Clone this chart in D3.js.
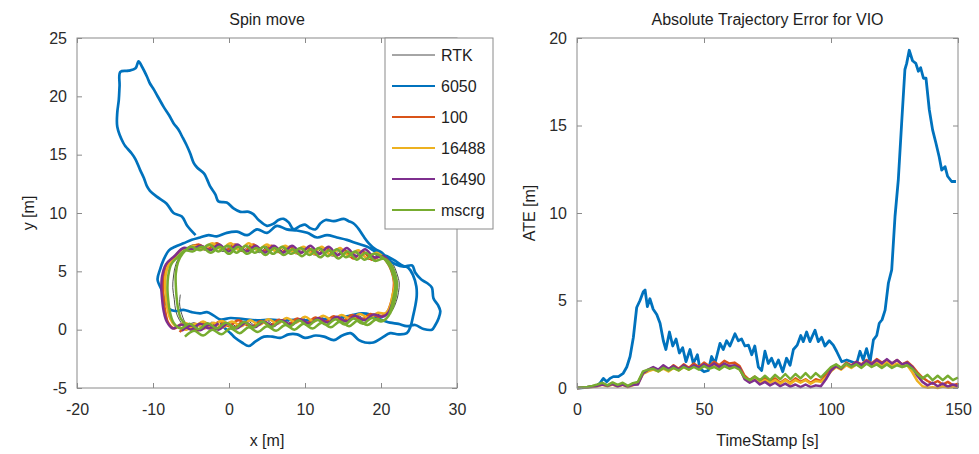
<!DOCTYPE html>
<html>
<head>
<meta charset="utf-8">
<script src="https://cdn.jsdelivr.net/npm/d3@7"></script>
<style>
    body { margin: 0; background: #fff; }
    svg { display: block; font-family: "Liberation Sans", Arial, Helvetica, sans-serif; }
    .tick text { font-size: 16px; fill: #2b2b2b; }
    .tick line { stroke: #8a8a8a; }
    .title, .label { font-size: 16px; fill: #1e1e1e; }
</style>
</head>
<body>
<svg id="chart" width="979" height="454"></svg>
<script>
// ---- series names and colours (MATLAB default order) ----
const seriesNames = ['RTK', '6050', '100', '16488', '16490', 'mscrg'];
const seriesColors = ['#4d4d4d', '#0072BD', '#D95319', '#EDB120', '#7E2F8E', '#77AC30'];

// ---- left plot: trajectories [x, y] in metres ----
const trajRTK = [[-6.4,3.0],[-6.5,2.2],[-6.2,1.3],[-5.6,0.5],[-4.8,0.45],[-3.6,0.0],[-2.4,0.55],[-1.2,0.1],[0,0.65],[1.2,0.2],[2.4,0.75],[3.6,0.3],[4.8,0.85],[6.0,0.4],[7.2,0.9],[8.4,0.5],[9.6,1.0],[10.8,0.6],[12.0,1.1],[13.2,0.7],[14.4,1.15],[15.6,0.8],[16.8,1.25],[18.0,0.9],[19.2,1.35],[20.4,1.2],[21.4,1.6],[22.0,2.4],[22.3,3.2],[22.4,4.0],[22.1,4.8],[21.6,5.6],[20.8,6.2],[19.6,6.4],[18.4,6.0],[17.2,6.7],[16.0,6.2],[14.8,6.9],[13.6,6.3],[12.4,7.0],[11.2,6.4],[10.0,7.0],[8.8,6.5],[7.6,7.1],[6.4,6.6],[5.2,7.2],[4.0,6.6],[2.8,7.2],[1.6,6.7],[0.4,7.3],[-0.8,6.7],[-2.0,7.3],[-3.2,6.8],[-4.4,7.3],[-5.6,7.0],[-6.4,6.4],[-7.0,5.6],[-7.3,4.6],[-7.4,3.6],[-7.2,2.6],[-7.0,1.6],[-6.5,0.8],[-5.8,0.3],[-4.6,0.6],[-3.4,0.15],[-2.2,0.7]];

const traj6050 = [[-4.4,8.1],[-5.5,8.9],[-6.2,9.7],[-7.3,10.0],[-8.2,10.8],[-9.5,11.4],[-10.4,11.9],[-10.8,12.3],[-11.2,13.0],[-11.7,13.7],[-12.3,14.6],[-12.8,15.1],[-13.6,15.7],[-13.9,16.0],[-14.7,17.4],[-14.7,18.6],[-14.5,19.7],[-14.4,20.9],[-14.3,22.1],[-13.2,22.2],[-12.3,22.4],[-11.9,23.0],[-11.5,22.6],[-10.8,21.7],[-10.4,21.1],[-9.9,20.6],[-9.3,19.9],[-8.6,19.1],[-7.9,18.4],[-7.3,17.7],[-6.6,17.1],[-6.2,16.6],[-5.5,15.7],[-5.1,15.1],[-4.65,14.3],[-4.2,13.9],[-3.3,13.4],[-2.9,12.9],[-2.5,12.3],[-1.8,11.6],[-1.4,11.0],[-0.3,10.9],[0.6,10.4],[1.5,10.1],[2.6,10.1],[3.2,9.9],[3.9,9.4],[5.0,8.9],[5.9,9.1],[6.5,9.4],[7.2,9.5],[7.85,9.2],[8.5,8.6],[9.4,8.9],[10.0,9.0],[10.7,8.7],[11.4,8.6],[12.0,9.1],[12.7,9.4],[13.8,9.3],[15.1,9.5],[15.75,9.3],[16.4,9.1],[17.1,8.6],[17.7,8.0],[18.4,7.4],[19.25,6.9],[20.1,6.6],[21.0,6.0],[21.9,5.6],[23.0,5.4],[24.1,5.5],[24.5,4.9],[25.3,4.3],[26.05,4.0],[26.7,3.6],[26.9,2.7],[27.5,2.1],[27.8,1.6],[27.6,1.0],[27.15,0.4],[26.7,0.0],[25.6,0.06],[24.5,0.4],[23.4,0.3],[22.3,0.5],[21.2,0.6],[19.9,0.9],[18.6,1.3],[17.5,1.4],[16.0,1.2],[14.2,1.0],[12.5,0.9],[10.7,0.8],[8.95,0.86],[7.2,0.8],[5.4,0.86],[3.7,0.8],[1.9,0.9],[0.2,1.0],[-1.1,0.86],[-2.0,1.2],[-2.9,1.5],[-3.8,1.4],[-4.9,1.5],[-6.0,1.7],[-7.1,1.6],[-7.9,1.8],[-8.4,2.4],[-8.8,3.3],[-9.4,4.3],[-9.1,5.1],[-8.6,6.0],[-7.9,6.8],[-7.1,7.1],[-6.0,7.4],[-4.9,7.7],[-3.8,7.9],[-2.7,8.1],[-1.6,8.0],[-0.3,8.3],[1.05,8.4],[2.4,8.1],[3.7,8.6],[5.0,8.3],[6.3,8.9],[7.6,8.6],[8.95,8.5],[10.3,8.3],[11.6,7.9],[12.9,8.1],[14.2,7.9],[15.5,7.7],[16.8,7.4],[18.2,7.1],[19.5,6.6],[20.8,6.3],[21.9,5.9],[22.8,5.5],[23.6,5.3],[24.2,4.7],[24.65,3.7],[24.7,2.9],[24.5,2.0],[24.2,1.1],[23.9,0.3],[23.4,-0.3],[22.3,-0.4],[21.2,-0.3],[20.1,-0.7],[19.0,-1.1],[17.9,-1.1],[17.1,-0.9],[16.0,-0.3],[14.9,-0.5],[13.8,-0.9],[12.5,-0.6],[11.4,-0.5],[10.0,-0.7],[8.95,-0.4],[7.85,-0.4],[6.75,-0.7],[5.7,-0.6],[4.6,-0.6],[3.5,-1.0],[2.6,-1.4],[1.7,-1.1],[0.8,-0.7],[0.2,-0.3],[-0.5,0.1],[-1.1,0.6]];

const traj100 = [[-6.5,-0.2],[-5.4,0.3],[-4.2,-0.1],[-3.0,0.45],[-1.8,0.05],[-0.6,0.55],[0.6,0.15],[1.8,0.65],[3.0,0.25],[4.2,0.75],[5.4,0.35],[6.6,0.85],[7.8,0.45],[9.0,0.95],[10.2,0.55],[11.4,1.05],[12.6,0.65],[13.8,1.15],[15.0,0.75],[16.2,1.25],[17.4,0.85],[18.6,1.35],[19.8,1.1],[20.8,1.5],[21.3,2.3],[21.6,3.2],[21.7,4.1],[21.4,5.0],[20.9,5.7],[20.0,6.3],[18.8,6.0],[17.6,6.7],[16.4,6.1],[15.2,6.8],[14.0,6.3],[12.8,7.0],[11.6,6.4],[10.4,7.0],[9.2,6.5],[8.0,7.1],[6.8,6.6],[5.6,7.2],[4.4,6.7],[3.2,7.3],[2.0,6.7],[0.8,7.3],[-0.4,6.8],[-1.6,7.4],[-2.8,6.9],[-4.0,7.3],[-5.2,7.0],[-6.2,6.9],[-7.2,6.2],[-8.2,5.6],[-8.6,4.6],[-8.7,3.6],[-8.6,2.6],[-8.4,1.6],[-8.0,0.6],[-7.2,0.1],[-6.0,0.5],[-4.8,0.1],[-3.6,0.6],[-2.4,0.2],[-1.2,0.7],[0.0,0.3],[1.2,0.8],[2.4,0.35]];

const traj16488 = [[-6.8,0.3],[-5.6,0.0],[-4.4,0.5],[-3.2,0.1],[-2.0,0.6],[-0.8,0.2],[0.4,0.7],[1.6,0.3],[2.8,0.8],[4.0,0.4],[5.2,0.9],[6.4,0.5],[7.6,1.0],[8.8,0.6],[10.0,1.1],[11.2,0.7],[12.4,1.2],[13.6,0.8],[14.8,1.25],[16.0,0.9],[17.2,1.35],[18.4,1.0],[19.6,1.45],[20.6,1.4],[21.2,2.0],[21.5,2.9],[21.8,3.8],[21.6,4.7],[21.2,5.5],[20.5,6.1],[19.4,6.6],[18.2,6.1],[17.0,6.8],[15.8,6.3],[14.6,7.0],[13.4,6.4],[12.2,7.1],[11.0,6.5],[9.8,7.1],[8.6,6.6],[7.4,7.2],[6.2,6.7],[5.0,7.3],[3.8,6.8],[2.6,7.4],[1.4,6.8],[0.2,7.4],[-1.0,6.9],[-2.2,7.4],[-3.4,6.9],[-4.6,7.2],[-5.8,6.8],[-6.8,6.2],[-7.8,5.7],[-8.3,4.8],[-8.4,3.8],[-8.3,2.8],[-8.1,1.8],[-7.7,0.9],[-7.0,0.3],[-5.8,0.6],[-4.6,0.2],[-3.4,0.7],[-2.2,0.25],[-1.0,0.75],[0.2,0.3]];

const traj16490 = [[-6.2,-0.1],[-5.0,0.35],[-3.8,-0.05],[-2.6,0.4],[-1.4,0.0],[-0.2,0.5],[1.0,0.1],[2.2,0.6],[3.4,0.2],[4.6,0.7],[5.8,0.3],[7.0,0.8],[8.2,0.4],[9.4,0.9],[10.6,0.5],[11.8,1.0],[13.0,0.6],[14.2,1.1],[15.4,0.7],[16.6,1.2],[17.8,0.8],[19.0,1.3],[20.2,1.1],[21.0,1.5],[21.5,2.3],[21.9,3.2],[22.0,4.1],[21.7,5.0],[21.2,5.7],[20.3,6.3],[19.1,6.2],[17.9,6.9],[16.7,6.3],[15.5,7.0],[14.3,6.4],[13.1,7.1],[11.9,6.5],[10.7,7.2],[9.5,6.6],[8.3,7.2],[7.1,6.6],[5.9,7.2],[4.7,6.6],[3.5,7.2],[2.3,6.7],[1.1,7.3],[-0.1,6.7],[-1.3,7.3],[-2.5,6.8],[-3.7,7.2],[-4.9,6.9],[-6.0,7.0],[-7.2,6.3],[-8.3,5.6],[-8.8,4.6],[-8.9,3.6],[-8.8,2.6],[-8.6,1.6],[-8.2,0.7],[-7.4,0.1],[-6.2,0.45],[-5.0,0.0],[-3.8,0.5],[-2.6,0.1],[-1.4,0.55]];

const trajMscrg = [[-5.8,-0.6],[-4.6,-0.1],[-3.4,-0.5],[-2.2,0.0],[-1.0,-0.4],[0.2,0.1],[1.4,-0.3],[2.6,0.2],[3.8,-0.2],[5.0,0.3],[6.2,-0.1],[7.4,0.4],[8.6,0.0],[9.8,0.5],[11.0,0.1],[12.2,0.6],[13.4,0.2],[14.6,0.7],[15.8,0.3],[17.0,0.8],[18.2,0.4],[19.4,0.9],[20.4,0.8],[21.2,1.4],[21.7,2.2],[22.0,3.1],[22.1,4.0],[21.8,4.9],[21.3,5.6],[20.4,6.1],[19.2,5.9],[18.0,6.6],[16.8,6.0],[15.6,6.7],[14.4,6.1],[13.2,6.8],[12.0,6.2],[10.8,6.9],[9.6,6.3],[8.4,6.9],[7.2,6.4],[6.0,7.0],[4.8,6.4],[3.6,7.0],[2.4,6.5],[1.2,7.1],[0.0,6.5],[-1.2,7.1],[-2.4,6.6],[-3.6,7.1],[-4.8,6.7],[-5.8,6.8],[-6.8,6.2],[-7.6,5.6],[-8.0,4.6],[-8.1,3.6],[-8.0,2.6],[-7.8,1.6],[-7.3,0.6],[-6.4,0.1],[-5.2,0.5],[-4.0,0.05],[-2.8,0.55],[-1.6,0.1],[-0.4,0.6],[0.8,0.15],[2.0,0.65],[3.2,0.2],[4.4,0.7],[5.6,0.25],[6.8,0.75],[8.0,0.3],[9.2,0.8],[10.4,0.35],[11.6,0.85],[12.8,0.4],[14.0,0.9],[15.2,0.45],[16.4,0.95],[17.6,0.5],[18.8,1.0],[20.0,0.7],[21.0,1.2],[21.4,2.0],[21.7,2.9],[21.9,3.8],[21.6,4.7],[21.1,5.5],[20.2,6.2],[19.0,6.5],[17.8,6.0],[16.6,6.7],[15.4,6.2],[14.2,6.9],[13.0,6.3],[11.8,7.0],[10.6,6.4],[9.4,7.0],[8.2,6.5],[7.0,7.1],[5.8,6.5],[4.6,7.1],[3.4,6.6],[2.2,7.2],[1.0,6.6],[-0.2,7.2],[-1.4,6.7],[-2.6,7.3],[-3.8,6.8],[-5.0,7.1],[-6.0,6.6],[-6.7,5.8],[-7.0,4.8],[-7.0,3.8],[-6.9,2.8],[-6.7,1.8],[-6.3,0.9],[-5.6,0.4]];

// ---- right plot: absolute trajectory error ----
const ate6050Time = [0,3,6,8,9,10.4,11.7,13,14.3,16.3,18.2,19.6,20.9,22.2,23.5,24.8,26.1,26.8,27.7,28.7,30,31.4,32.7,34,35,36.4,37.7,39,40.3,41.6,42.9,44.5,45.8,47.4,48.4,50,51.7,53,54.3,56.3,57.6,58.9,60.2,62.2,63.5,64.8,66.1,67.5,68.8,70,71.4,72.7,74,75.3,76.6,78,79.3,81,82.5,83.9,85.2,86.7,88.1,89.1,90.4,91.7,93.7,95,96.3,97.6,99.3,100.9,102.2,104.2,106.2,108.1,110.1,111.4,112.7,114,115.4,116.7,118,119,120.1,121.3,122.6,123.9,125.2,126.5,127.8,129.1,129.8,130.8,132.1,133.4,134.4,135.3,136.4,137.4,138.7,140,141.3,142.6,143.6,144.9,145.9,147.5,149.2];
const ate6050 = [0,0.02,0.08,0.15,0.27,0.55,0.36,0.55,0.65,0.65,0.84,1.2,1.8,2.9,4.6,5.0,5.5,5.6,4.65,5.1,4.5,4.2,3.7,2.7,2.2,3.2,2.4,2.8,2.0,2.3,1.5,2.2,1.4,1.9,1.1,0.93,1.0,1.8,1.4,2.55,2.2,2.7,2.4,3.1,2.7,2.8,2.4,2.45,1.9,2.4,1.2,1.0,2.1,1.4,1.7,1.2,1.6,0.93,1.7,1.3,2.2,2.45,3.0,2.65,3.2,2.65,3.3,2.65,2.9,2.4,2.7,2.45,2.1,1.5,1.6,1.5,1.4,2.1,1.6,2.25,1.5,2.75,3.0,3.7,3.9,4.45,6.0,6.75,9.8,11.9,15.1,18.2,18.55,19.3,18.7,18.55,18.1,18.3,17.7,17.7,15.9,14.75,14.0,13.2,12.45,12.65,12.1,11.8,11.8];

const ateTime = [0,2,4,6,8,10,12,14,16,18,20,22,24,26,28,30,32,34,36,38,40,42,44,46,48,50,52,54,56,58,60,62,64,66,68,70,72,74,76,78,80,82,84,86,88,90,92,94,96,98,100,102,104,106,108,110,112,114,116,118,120,122,124,126,128,130,132,134,136,138,140,142,144,146,148,150];
const ate100 = [0,0.02,0.05,0.08,0.15,0.22,0.15,0.28,0.12,0.25,0.1,0.22,0.3,0.9,1.0,1.15,1.0,1.2,1.05,1.3,1.1,1.35,1.15,1.4,1.2,1.45,1.25,1.5,1.3,1.55,1.4,1.45,1.25,0.7,0.45,0.65,0.4,0.6,0.35,0.55,0.3,0.5,0.3,0.55,0.35,0.5,0.3,0.5,0.4,0.75,1.05,1.3,1.15,1.45,1.3,1.5,1.35,1.6,1.4,1.65,1.45,1.6,1.4,1.6,1.35,1.5,1.25,0.9,0.6,0.4,0.25,0.4,0.2,0.35,0.15,0.25];
const ate16488 = [0,0.01,0.03,0.06,0.1,0.18,0.1,0.2,0.08,0.18,0.05,0.15,0.25,0.8,0.95,1.05,0.95,1.1,0.95,1.15,1.0,1.2,1.05,1.25,1.1,1.3,1.15,1.3,1.15,1.35,1.2,1.25,1.1,0.55,0.35,0.5,0.3,0.45,0.3,0.45,0.25,0.45,0.25,0.45,0.3,0.45,0.25,0.4,0.35,0.6,0.95,1.2,1.05,1.3,1.15,1.35,1.2,1.4,1.25,1.45,1.3,1.45,1.25,1.4,1.2,1.3,0.9,0.4,0.1,0.02,0.05,0.0,0.08,0.02,0.06,0.03];
const ate16490 = [0,0.02,0.04,0.08,0.12,0.2,0.12,0.22,0.1,0.2,0.08,0.18,0.2,0.85,1.05,1.2,1.05,1.3,1.1,1.25,1.05,1.3,1.1,1.3,1.15,1.35,1.2,1.4,1.2,1.4,1.25,1.3,1.15,0.5,0.3,0.45,0.2,0.35,0.15,0.3,0.1,0.25,0.08,0.2,0.05,0.2,0.05,0.15,0.1,0.5,1.0,1.25,1.1,1.4,1.25,1.5,1.3,1.55,1.35,1.6,1.4,1.65,1.4,1.6,1.35,1.45,1.2,0.7,0.35,0.15,0.3,0.1,0.25,0.08,0.2,0.1];
const ateMscrg = [0,0.03,0.06,0.12,0.2,0.3,0.15,0.32,0.18,0.3,0.12,0.28,0.35,0.95,1.05,1.1,0.95,1.15,1.0,1.15,1.0,1.2,1.05,1.2,1.05,1.25,1.1,1.2,1.05,1.25,1.1,1.2,1.05,0.6,0.45,0.65,0.45,0.7,0.45,0.75,0.5,0.8,0.5,0.8,0.55,0.85,0.55,0.85,0.6,0.9,1.2,1.35,1.15,1.4,1.2,1.35,1.15,1.4,1.2,1.35,1.15,1.35,1.15,1.3,1.2,1.3,1.1,0.8,0.55,0.75,0.45,0.7,0.45,0.7,0.45,0.6];

// ---- ticks ----
const trajXTicks = [-20, -10, 0, 10, 20, 30];
const trajYTicks = [-5, 0, 5, 10, 15, 20, 25];
const ateXTicks = [0, 50, 100, 150];
const ateYTicks = [0, 5, 10, 15, 20];

const svg = d3.select('#chart');
const boxColor = '#8a8a8a';

const xL = d3.scaleLinear().domain([-20, 30]).range([77, 457]);
const yL = d3.scaleLinear().domain([-5, 25]).range([388, 38]);
const xR = d3.scaleLinear().domain([0, 150]).range([577, 958]);
const yR = d3.scaleLinear().domain([0, 20]).range([388, 38]);

const fmt = d => String(d);

/**
 * Draws a MATLAB style box with inward ticks on all four sides
 */
function drawAxes(x, y, xTicks, yTicks) {
    const [x0, x1] = x.range();
    const [y0, y1] = y.range();
    const noDomain = a => a.select('.domain').remove();
    const g = svg.append('g');

    g.append('g').attr('transform', `translate(0,${y0})`)
        .call(d3.axisBottom(x).tickValues(xTicks).tickSize(-5).tickPadding(16).tickFormat(fmt))
        .call(noDomain);
    g.append('g').attr('transform', `translate(0,${y1})`)
        .call(d3.axisTop(x).tickValues(xTicks).tickSize(-5).tickFormat(''))
        .call(noDomain);
    g.append('g').attr('transform', `translate(${x0},0)`)
        .call(d3.axisLeft(y).tickValues(yTicks).tickSize(-5).tickPadding(10).tickFormat(fmt))
        .call(noDomain);
    g.append('g').attr('transform', `translate(${x1},0)`)
        .call(d3.axisRight(y).tickValues(yTicks).tickSize(-5).tickFormat(''))
        .call(noDomain);

    g.selectAll('.tick text').attr('font-family', null).attr('font-size', null);

    g.append('rect')
        .attr('x', x0).attr('y', y1)
        .attr('width', x1 - x0).attr('height', y0 - y1)
        .attr('fill', 'none')
        .attr('stroke', boxColor)
        .attr('stroke-width', 1);
}

function addLabels(x, y, title, xLabel, yLabel, yLabelX) {
    const [x0, x1] = x.range();
    const [y0, y1] = y.range();
    const cx = (x0 + x1) / 2;
    const cy = (y0 + y1) / 2;
    svg.append('text').attr('class', 'title')
        .attr('x', cx).attr('y', 25).attr('text-anchor', 'middle').text(title);
    svg.append('text').attr('class', 'label')
        .attr('x', cx).attr('y', 446).attr('text-anchor', 'middle').text(xLabel);
    svg.append('text').attr('class', 'label')
        .attr('transform', `translate(${yLabelX},${cy}) rotate(-90)`)
        .attr('text-anchor', 'middle').text(yLabel);
}

// ---- left: Spin move ----
const trajLine = d3.line()
    .x(d => xL(d[0]))
    .y(d => yL(d[1]))
    .curve(d3.curveCatmullRom.alpha(0.5));

const trajectories = [trajRTK, traj6050, traj100, traj16488, traj16490, trajMscrg];
const trajWidths = [1, 2.7, 2.5, 2.5, 2.5, 2.5];

svg.append('g').selectAll('path')
    .data(trajectories)
    .enter()
    .append('path')
    .attr('d', trajLine)
    .attr('fill', 'none')
    .attr('stroke', (d, i) => seriesColors[i])
    .attr('stroke-width', (d, i) => trajWidths[i])
    .attr('stroke-linejoin', 'round');

drawAxes(xL, yL, trajXTicks, trajYTicks);
addLabels(xL, yL, 'Spin move', 'x [m]', 'y [m]', 34);

// legend
const legend = svg.append('g').attr('class', 'legend');
legend.append('rect')
    .attr('x', 385).attr('y', 38)
    .attr('width', 108).attr('height', 191)
    .attr('fill', '#fff')
    .attr('stroke', boxColor);
const items = legend.selectAll('.item')
    .data(seriesNames)
    .enter()
    .append('g')
    .attr('class', 'item')
    .attr('transform', (d, i) => `translate(0,${55 + i * 31})`);
items.append('line')
    .attr('x1', 392).attr('x2', 435)
    .attr('stroke', (d, i) => seriesColors[i])
    .attr('stroke-width', (d, i) => i === 0 ? 1 : 2);
items.append('text')
    .attr('x', 441).attr('dy', '0.36em')
    .attr('font-size', 16).attr('fill', '#1e1e1e')
    .text(d => d);

// ---- right: ATE ----
const ateLine = d3.line()
    .x(d => xR(d[0]))
    .y(d => yR(d[1]));

const ateSeries = [
    d3.zip(ate6050Time, ate6050),
    d3.zip(ateTime, ate100),
    d3.zip(ateTime, ate16488),
    d3.zip(ateTime, ate16490),
    d3.zip(ateTime, ateMscrg)
];

svg.append('g').selectAll('path')
    .data(ateSeries)
    .enter()
    .append('path')
    .attr('d', ateLine)
    .attr('fill', 'none')
    .attr('stroke', (d, i) => seriesColors[i + 1])
    .attr('stroke-width', (d, i) => i === 0 ? 2.8 : 2.5)
    .attr('stroke-linejoin', 'round');

drawAxes(xR, yR, ateXTicks, ateYTicks);
addLabels(xR, yR, 'Absolute Trajectory Error for VIO', 'TimeStamp [s]', 'ATE [m]', 535);
</script>
</body>
</html>
